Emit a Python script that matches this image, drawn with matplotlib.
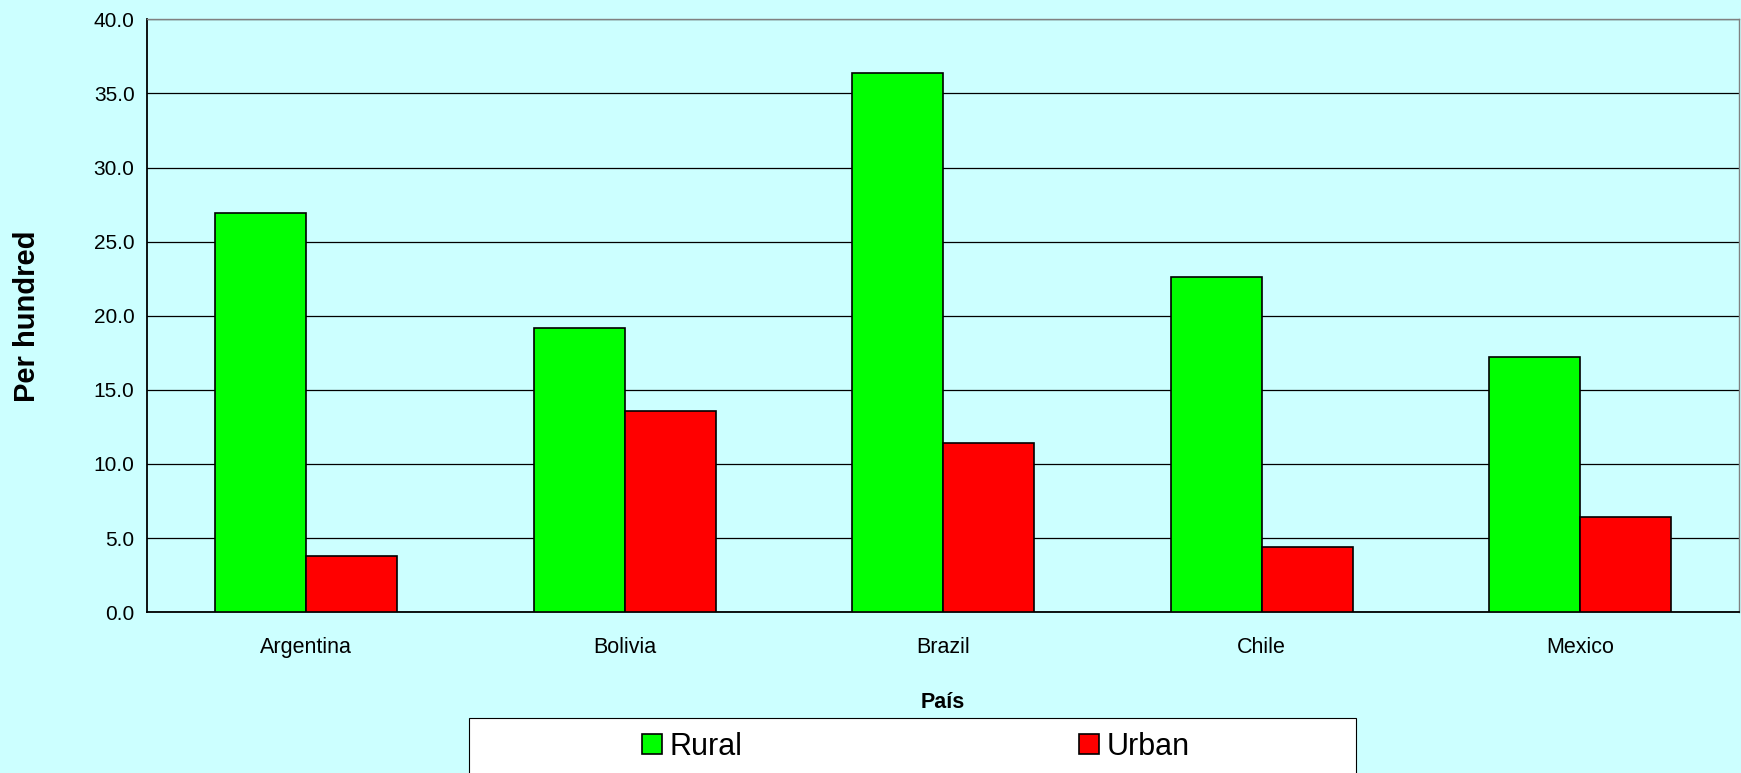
import numpy as np
import matplotlib
matplotlib.use('Agg')
import matplotlib.pyplot as plt
from matplotlib.patches import Rectangle
from matplotlib.ticker import FormatStrFormatter

# data
countries = ['Argentina', 'Bolivia', 'Brazil', 'Chile', 'Mexico']
rural = [26.9, 19.2, 36.4, 22.6, 17.2]
urban = [3.8, 13.6, 11.4, 4.4, 6.4]

plt.rcParams['font.family'] = ['Liberation Sans', 'DejaVu Sans']

bg = '#CCFFFF'
fig = plt.figure(figsize=(17.41, 7.73), dpi=100, facecolor=bg)
ax = fig.add_axes([0.0845, 0.208, 0.9145, 0.767])
ax.set_facecolor(bg)

x = np.arange(len(countries))
w = 0.286
ax.bar(x - w / 2, rural, w, color='#00FF00', edgecolor='black', linewidth=1.2, label='Rural', zorder=3)
ax.bar(x + w / 2, urban, w, color='#FF0000', edgecolor='black', linewidth=1.2, label='Urban', zorder=3)

ax.set_xlim(-0.5, len(countries) - 0.5)
ax.set_ylim(0, 40)
ax.set_yticks(np.arange(0, 40.1, 5))
ax.yaxis.set_major_formatter(FormatStrFormatter('%.1f'))
ax.grid(axis='y', color='black', linewidth=0.9, zorder=0)
ax.set_xticks(x)
ax.set_xticklabels(countries)
ax.tick_params(axis='x', length=0, labelsize=15.5, pad=18)
ax.tick_params(axis='y', length=0, labelsize=15, pad=9)

for s in ['top', 'right']:
    ax.spines[s].set_color('#808080')
    ax.spines[s].set_linewidth(1)
for s in ['left', 'bottom']:
    ax.spines[s].set_color('black')
    ax.spines[s].set_linewidth(1.3)

ax.set_xlabel('País', fontsize=15.5, fontweight='bold', labelpad=24)
ax.set_ylabel('Per hundred', fontsize=21, fontweight='bold', labelpad=38)

# legend box
fig.patches.append(Rectangle((0.2695, -0.02), 0.5095, 0.091, transform=fig.transFigure,
                             facecolor='white', edgecolor='black', linewidth=0.8))
fig.legend(loc='center', bbox_to_anchor=(0.526, 0.034), ncol=2, frameon=False,
           fontsize=22, handlelength=0.65, handleheight=0.65, handletextpad=0.25,
           columnspacing=11)

fig.savefig('out.png', dpi=100, facecolor=bg)
